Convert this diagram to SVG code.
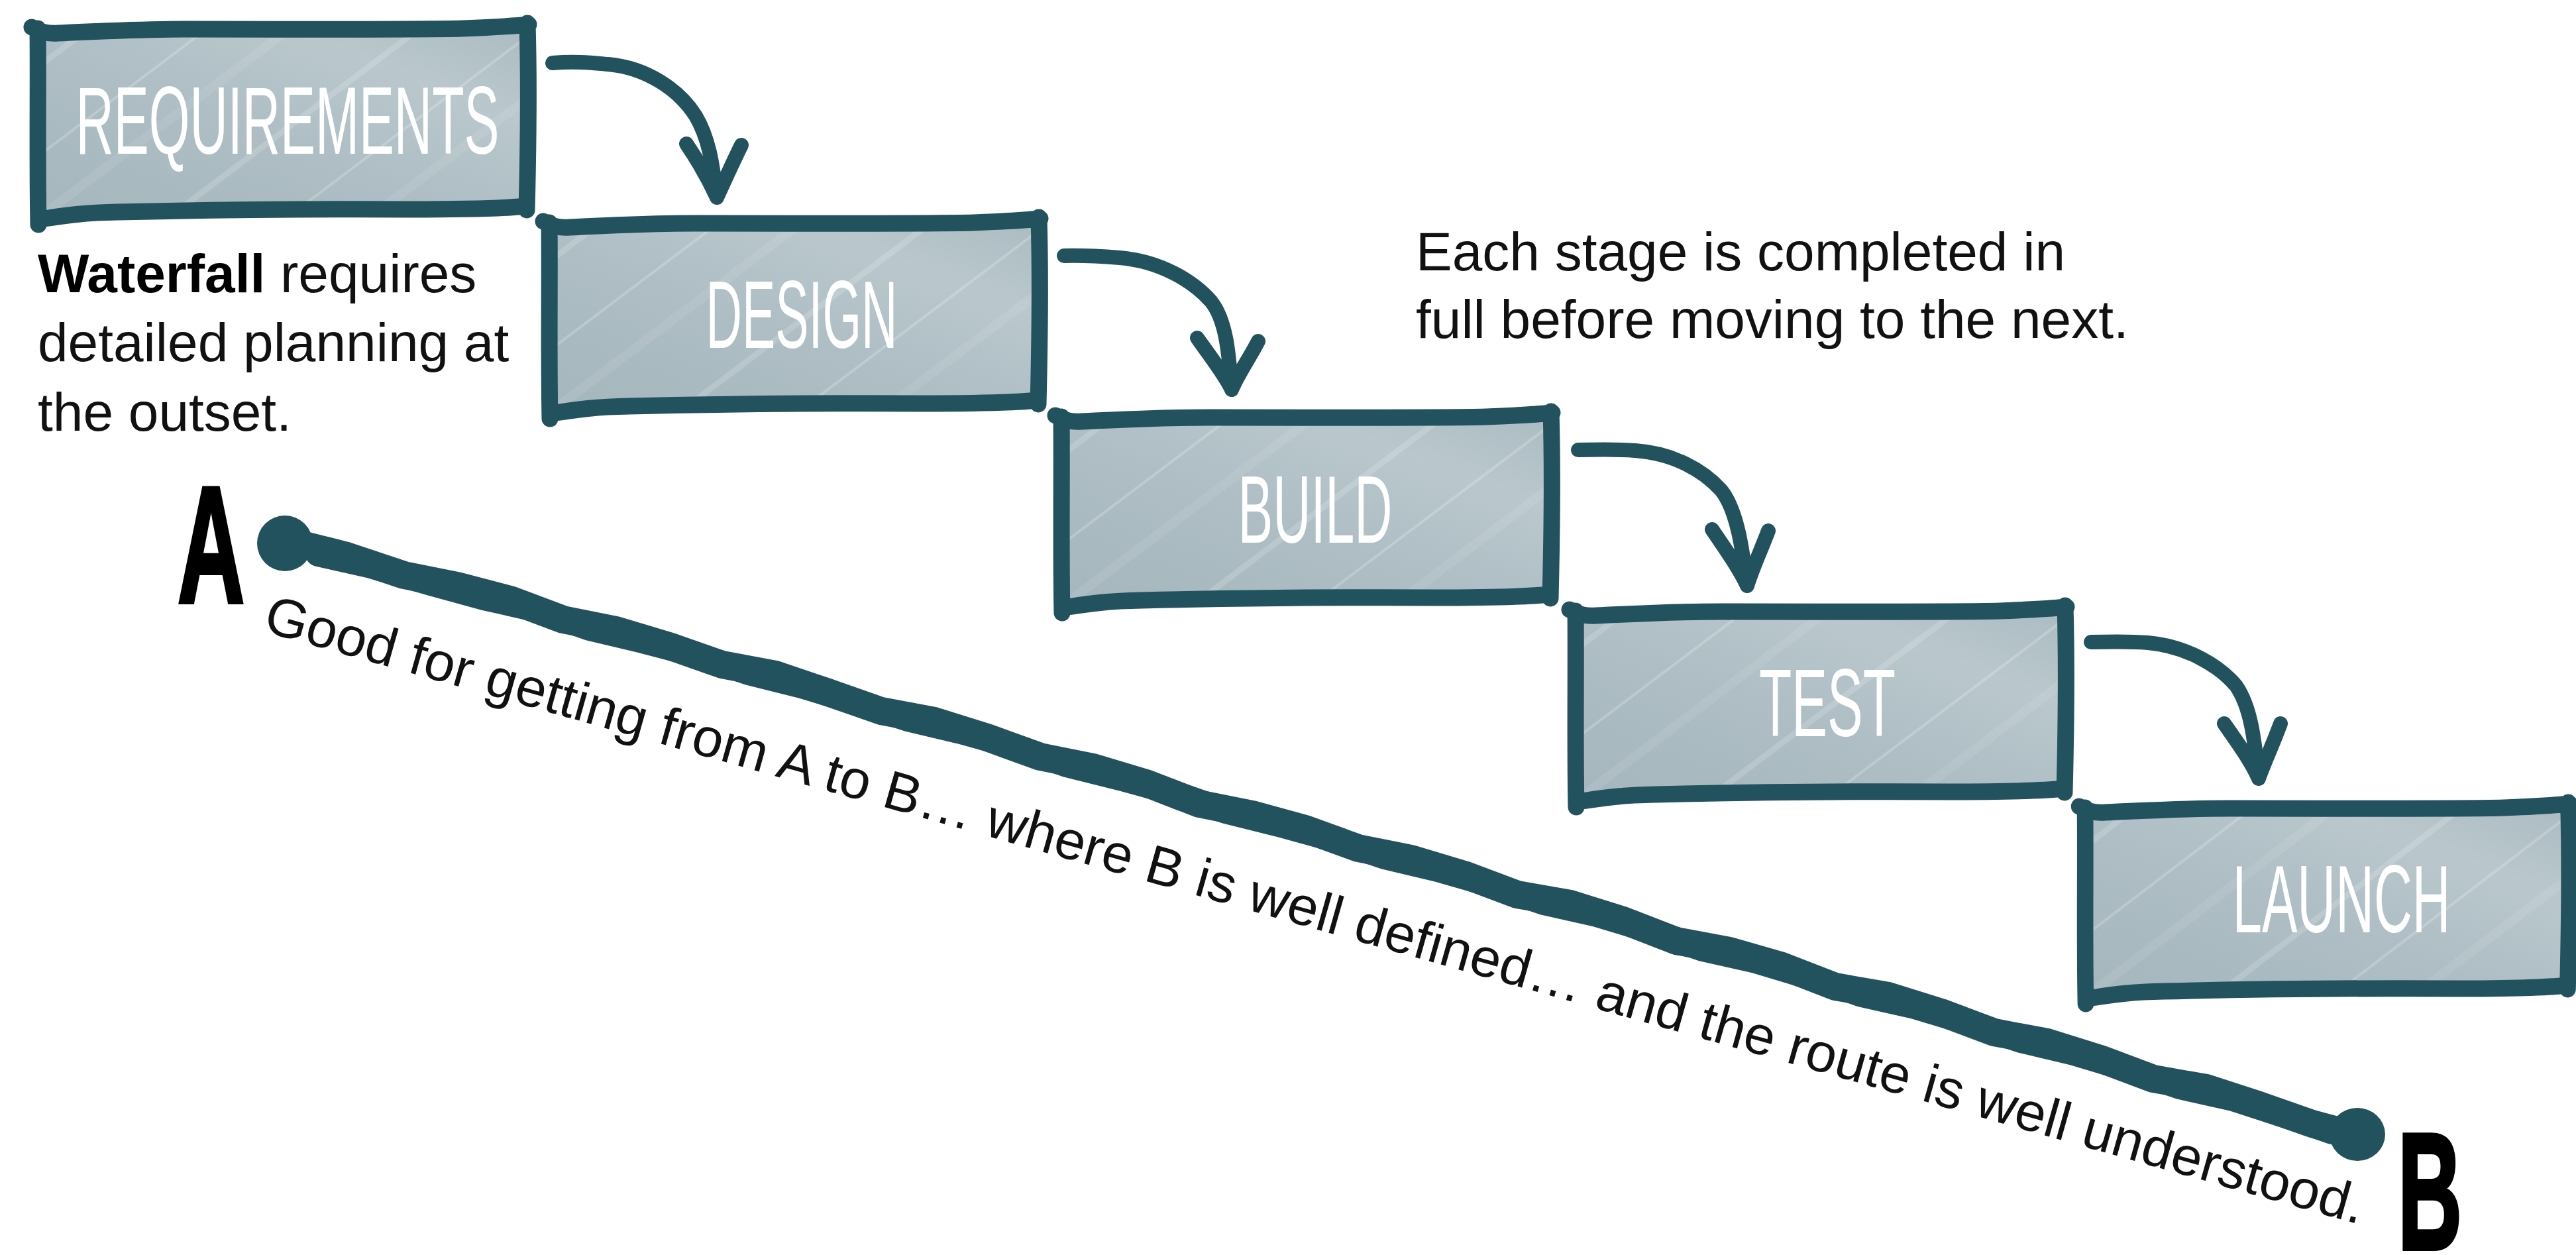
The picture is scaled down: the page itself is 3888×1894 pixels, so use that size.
<svg xmlns="http://www.w3.org/2000/svg" width="3888" height="1894" viewBox="0 0 3888 1894">
<defs>
<style>
.edge{fill:none;stroke:#23525f;stroke-width:25;stroke-linecap:round;stroke-linejoin:round}
.label{font-family:"Liberation Sans",Arial,sans-serif;font-size:144px;fill:#ffffff;text-anchor:middle}
.body{font-family:"Liberation Sans",Arial,sans-serif;font-size:82px;fill:#111111}
.big{font-family:"Liberation Sans",Arial,sans-serif;font-weight:bold;font-size:250px;fill:#000000;stroke:#000000;stroke-width:6}
.arrow{fill:none;stroke:#23525f;stroke-width:22;stroke-linecap:round;stroke-linejoin:round}
.road{fill:none;stroke:#23525f;stroke-linecap:round;stroke-linejoin:round}
</style>
<linearGradient id="fillg" x1="0" y1="1" x2="1" y2="0">
<stop offset="0" stop-color="#a5b6bd"/>
<stop offset="0.45" stop-color="#aebec4"/>
<stop offset="0.75" stop-color="#bac8cd"/>
<stop offset="1" stop-color="#abbbc1"/>
</linearGradient>
<pattern id="streaks" patternUnits="userSpaceOnUse" width="300" height="300" patternTransform="rotate(-37)">
<rect x="0" y="40" width="300" height="9" fill="#ffffff" fill-opacity="0.16"/>
<rect x="0" y="150" width="300" height="4" fill="#ffffff" fill-opacity="0.2"/>
<rect x="0" y="220" width="300" height="14" fill="#ffffff" fill-opacity="0.08"/>
</pattern>
<g id="box">
<path d="M0 0 L736 -4 L736 268 L0 280 Z" fill="url(#fillg)"/>
<path d="M0 0 L736 -4 L736 268 L0 280 Z" fill="url(#streaks)"/>
<path class="edge" d="M-10 -4 C5 4 15 6 30 5 C80 3 140 -1 220 -1 C400 -1 560 0 640 -2 C690 -4 720 -6 740 -8 M738 -10 C740 60 740 150 737 272 M2 286 C30 282 60 276 120 275 C250 272 400 270 560 271 C640 271 700 270 735 266 M-1 -2 C0 80 -2 200 0 294"/>
</g>
</defs>
<rect width="3888" height="1894" fill="#ffffff"/>

<g id="road">
<polyline class="road" stroke-width="42" points="440,818 520,838 610,868 690,884 770,905 850,935 930,951 1010,975 1090,1003 1170,1018 1250,1045 1330,1073 1410,1088 1490,1113 1570,1142 1650,1158 1730,1182 1810,1213 1890,1229 1970,1251 2050,1280 2130,1296 2210,1320 2290,1350 2370,1364 2450,1389 2530,1420 2610,1435 2690,1458 2770,1489 2850,1503 2930,1528 3010,1558 3090,1573 3170,1598 3250,1628 3330,1642 3410,1668 3490,1696 3550,1712"/>
<polyline class="road" stroke-width="38" points="480,836 560,854 650,880 730,902 810,920 890,948 970,967 1050,988 1130,1015 1210,1035 1290,1059 1370,1085 1450,1104 1530,1126 1610,1154 1690,1174 1770,1196 1850,1224 1930,1244 2010,1266 2090,1293 2170,1312 2250,1335 2330,1362 2410,1380 2490,1404 2570,1432 2650,1450 2730,1474 2810,1501 2890,1519 2970,1543 3050,1570 3130,1589 3210,1613 3290,1640 3370,1658 3450,1684 3520,1708"/>
<ellipse cx="430" cy="820" rx="42" ry="42" fill="#23525f"/>
<ellipse cx="3558" cy="1712" rx="42" ry="40" fill="#23525f"/>
</g>

<g id="connectors">
<path class="arrow" d="M834 95 C870 92 895 95 918 97 C975 102 1025 135 1050 175 C1072 212 1076 255 1082 298 M1036 217 C1055 245 1070 272 1082 298 M1119 219 C1106 245 1095 270 1082 298"/>
<path class="arrow" d="M1606 386 C1640 385 1665 387 1690 389 C1750 394 1800 423 1828 455 C1852 485 1855 540 1859 588 M1807 510 C1828 540 1848 565 1859 588 M1899 515 C1885 542 1868 566 1859 588"/>
<path class="arrow" d="M2382 679 C2420 678 2445 678 2468 680 C2525 684 2570 709 2598 740 C2622 770 2630 830 2637 884 M2584 799 C2605 830 2625 858 2637 884 M2669 801 C2658 830 2645 858 2637 884"/>
<path class="arrow" d="M3156 969 C3195 968 3220 968 3242 970 C3300 975 3350 1005 3375 1035 C3398 1068 3403 1120 3409 1175 M3357 1092 C3378 1122 3398 1150 3409 1175 M3442 1092 C3431 1122 3418 1150 3409 1175"/>
</g>

<g id="node-requirements">
<use href="#box" transform="translate(58 45)"/>
<text class="label" x="434" y="232" textLength="639" lengthAdjust="spacingAndGlyphs">REQUIREMENTS</text>
</g>
<g id="node-design">
<use href="#box" transform="translate(830 338)"/>
<text class="label" x="1210" y="525" textLength="289" lengthAdjust="spacingAndGlyphs">DESIGN</text>
</g>
<g id="node-build">
<use href="#box" transform="translate(1603 631)"/>
<text class="label" x="1985" y="819" textLength="233" lengthAdjust="spacingAndGlyphs">BUILD</text>
</g>
<g id="node-test">
<use href="#box" transform="translate(2379 924)"/>
<text class="label" x="2758" y="1111" textLength="206" lengthAdjust="spacingAndGlyphs">TEST</text>
</g>
<g id="node-launch">
<use href="#box" transform="translate(3148 1221) scale(0.987 1)"/>
<text class="label" x="3534" y="1407" textLength="329" lengthAdjust="spacingAndGlyphs">LAUNCH</text>
</g>

<g id="note-left">
<text class="body" x="57" y="441"><tspan font-weight="bold" fill="#000000">Waterfall</tspan> requires</text>
<text class="body" x="57" y="545">detailed planning at</text>
<text class="body" x="57" y="650">the outset.</text>
</g>
<g id="note-right">
<text class="body" x="2137" y="408">Each stage is completed in</text>
<text class="body" x="2137" y="510">full before moving to the next.</text>
</g>

<g id="label-a"><text class="big" x="268" y="909" textLength="101" lengthAdjust="spacingAndGlyphs">A</text></g>
<g id="label-b"><text class="big" x="3619" y="1885" textLength="97" lengthAdjust="spacingAndGlyphs">B</text></g>

<g id="road-caption">
<text class="body" transform="translate(395 952) rotate(15.8)" textLength="3290" lengthAdjust="spacingAndGlyphs">Good for getting from A to B… where B is well defined… and the route is well understood.</text>
</g>
</svg>
